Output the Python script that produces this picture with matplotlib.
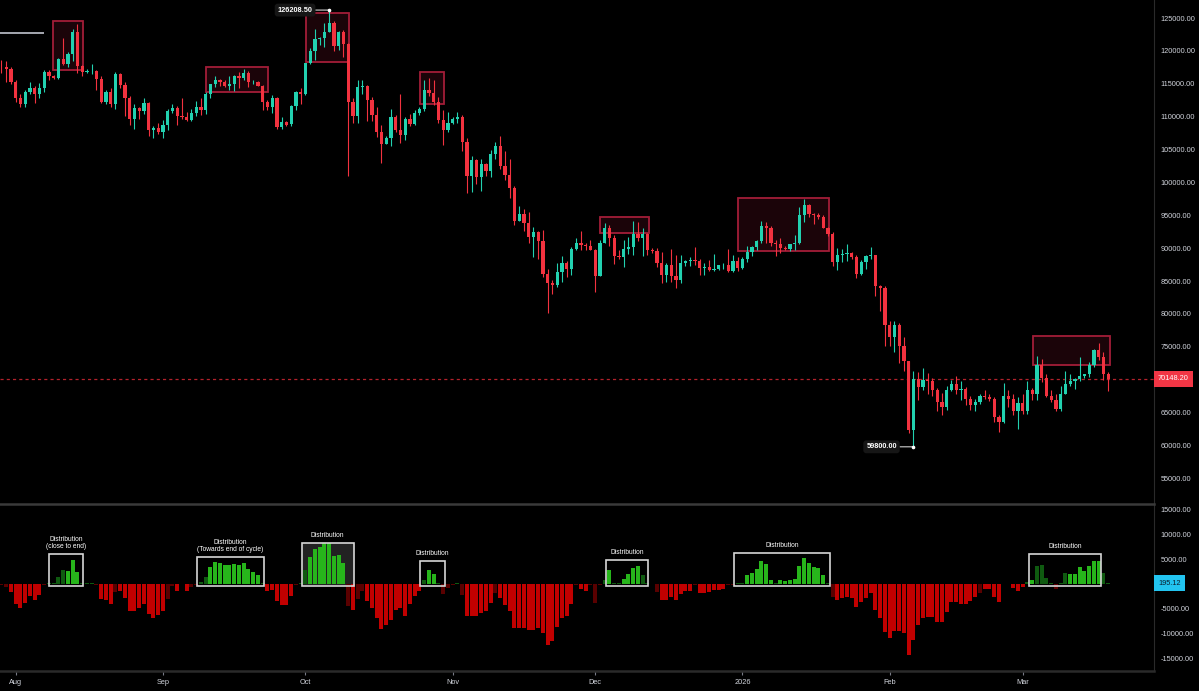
import numpy as np
import pandas as pd
import matplotlib
matplotlib.use("Agg")
import matplotlib.pyplot as plt
import matplotlib.dates as mdates
from matplotlib.patches import Rectangle

plt.rcParams["font.family"] = ["Liberation Sans", "DejaVu Sans"]
plt.rcParams["axes.unicode_minus"] = False

# daily candles, 29 Jul 2025 .. 19 Mar 2026, prices in thousands
dates = pd.date_range("2025-07-29", "2026-03-19", freq="D")

open_k = [
    117.6, 117.5, 117.3, 115.3, 112.8, 112.0, 113.8, 114.4, 113.5, 114.4,
    116.8, 116.2, 115.9, 118.7, 118.0, 119.6, 122.9, 117.7, 116.8, 116.9,
    117.0, 115.7, 112.3, 113.8, 111.9, 116.5, 114.8, 112.9, 109.6, 111.3,
    110.8, 112.1, 107.9, 108.3, 107.7, 108.7, 110.8, 111.3, 110.1, 109.9,
    109.5, 110.6, 111.5, 111.0, 113.5, 114.9, 115.5, 115.3, 114.6, 114.9,
    116.2, 115.9, 116.6, 115.2, 115.3, 114.7, 112.3, 111.5, 112.8, 108.4,
    109.2, 108.9, 111.6, 113.8, 113.4, 118.1, 120.0, 121.8, 121.9, 122.9,
    124.2, 120.7, 122.8, 121.0, 112.3, 110.1, 114.5, 114.7, 112.6, 110.2,
    107.7, 105.9, 106.8, 110.0, 107.9, 107.2, 109.6, 108.9, 110.6, 111.1,
    114.0, 113.6, 112.3, 109.5, 107.9, 109.1, 109.6, 110.0, 106.2, 101.0,
    103.4, 100.8, 102.8, 101.8, 104.3, 105.5, 102.5, 101.1, 99.2, 94.2,
    95.2, 93.8, 91.7, 92.5, 91.1, 86.1, 84.7, 84.4, 86.4, 87.8,
    86.9, 89.9, 90.8, 90.5, 90.4, 89.8, 85.7, 90.8, 93.0, 91.6,
    88.8, 88.7, 89.9, 90.2, 92.2, 91.6, 92.1, 89.8, 89.6, 87.7,
    86.0, 87.4, 85.7, 85.1, 87.7, 88.0, 88.2, 88.1, 87.0, 87.2,
    86.7, 86.9, 87.4, 87.5, 86.6, 88.0, 87.0, 88.4, 89.4, 90.2,
    91.1, 93.3, 93.1, 90.8, 90.7, 90.1, 89.9, 90.6, 90.8, 95.0,
    96.5, 95.2, 95.1, 94.8, 93.1, 92.1, 87.9, 88.9, 89.1, 89.3,
    88.6, 86.1, 87.9, 88.8, 88.9, 84.2, 83.9, 78.3, 76.5, 78.3,
    75.2, 72.8, 62.4, 70.1, 68.9, 69.9, 69.8, 68.4, 66.6, 65.8,
    68.5, 69.4, 68.5, 68.6, 67.1, 66.1, 66.6, 67.6, 67.3, 67.1,
    64.3, 63.6, 67.6, 67.0, 65.3, 66.5, 65.3, 68.4, 67.8, 72.2,
    70.3, 67.6, 66.9, 65.6, 67.9, 69.4, 69.8, 70.1, 70.5, 70.8,
    72.2, 74.5, 73.5, 70.8,
]
high_k = [
    118.6, 118.4, 117.5, 115.5, 113.5, 114.1, 115.2, 114.7, 115.1, 117.1,
    117.1, 116.3, 118.9, 121.9, 119.9, 123.3, 124.1, 117.9, 117.3, 118.0,
    117.1, 116.2, 114.0, 114.3, 116.8, 116.6, 115.2, 113.1, 112.0, 111.5,
    112.9, 112.3, 108.6, 109.0, 109.5, 111.1, 112.0, 111.6, 112.8, 110.7,
    111.1, 112.4, 112.8, 113.8, 115.0, 116.2, 115.8, 115.6, 116.2, 116.3,
    116.8, 117.3, 117.0, 115.6, 115.4, 114.8, 112.6, 113.3, 113.0, 109.9,
    109.4, 111.8, 113.9, 114.3, 118.2, 120.4, 123.4, 122.1, 124.2, 126.2,
    124.6, 123.1, 123.2, 121.2, 112.8, 115.5, 115.5, 114.8, 113.0, 111.4,
    108.7, 107.0, 111.1, 110.3, 113.4, 110.0, 110.4, 111.0, 111.5, 115.5,
    115.9, 115.6, 113.0, 111.0, 110.7, 110.0, 110.7, 110.2, 106.7, 104.0,
    103.6, 103.5, 102.9, 105.0, 106.2, 107.0, 104.8, 103.5, 99.4, 96.4,
    96.0, 95.5, 93.2, 92.6, 92.7, 86.9, 85.1, 87.7, 88.8, 88.1,
    90.2, 91.5, 92.6, 90.8, 91.3, 89.9, 91.3, 93.8, 93.5, 92.0,
    89.7, 91.2, 91.7, 94.2, 94.0, 93.0, 92.3, 90.1, 90.0, 89.4,
    87.7, 89.9, 88.9, 88.9, 88.2, 88.7, 90.2, 88.4, 87.8, 88.2,
    89.1, 87.5, 87.7, 89.9, 88.9, 88.7, 88.7, 90.4, 90.3, 91.3,
    94.2, 94.0, 93.3, 91.2, 91.6, 90.4, 90.7, 92.0, 96.3, 97.5,
    96.7, 95.4, 95.3, 95.0, 93.2, 92.5, 90.1, 89.9, 90.7, 89.4,
    88.9, 88.2, 88.9, 90.2, 89.0, 84.4, 84.2, 79.0, 78.9, 78.6,
    76.5, 72.8, 71.3, 71.2, 71.8, 71.0, 70.2, 68.8, 68.0, 69.1,
    70.0, 70.5, 69.8, 68.9, 67.6, 67.0, 67.9, 68.4, 67.9, 67.4,
    64.7, 69.5, 68.4, 67.8, 67.3, 67.8, 69.8, 68.8, 73.6, 73.1,
    70.9, 68.5, 67.8, 69.1, 71.3, 70.8, 70.2, 73.5, 70.9, 72.7,
    74.7, 75.6, 74.2, 71.2,
]
low_k = [
    116.6, 115.3, 115.0, 112.3, 111.4, 111.5, 113.5, 112.1, 112.8, 113.8,
    115.5, 115.8, 115.8, 117.8, 117.6, 118.4, 116.6, 116.2, 116.6, 116.5,
    114.1, 112.1, 111.9, 111.5, 111.1, 114.3, 110.1, 108.7, 108.2, 109.7,
    110.4, 107.0, 106.8, 107.4, 106.8, 107.9, 110.5, 108.7, 109.6, 109.4,
    109.4, 110.1, 110.2, 110.4, 112.9, 114.5, 114.6, 114.5, 114.0, 113.9,
    114.3, 115.6, 114.5, 115.0, 114.6, 111.0, 111.0, 110.5, 108.2, 108.1,
    108.6, 108.6, 111.0, 112.0, 113.3, 118.0, 118.6, 120.9, 120.6, 122.8,
    120.0, 120.2, 119.1, 101.0, 109.1, 109.1, 113.5, 109.4, 109.4, 106.9,
    103.0, 105.8, 105.6, 107.7, 106.0, 106.5, 108.6, 108.7, 110.2, 110.9,
    113.2, 111.8, 109.0, 105.7, 107.7, 108.9, 109.0, 104.8, 98.4, 98.5,
    99.8, 98.7, 101.0, 100.9, 103.6, 102.1, 100.3, 97.6, 93.5, 94.1,
    92.6, 90.8, 88.6, 88.3, 85.6, 80.2, 83.1, 84.1, 84.9, 85.6,
    85.9, 89.7, 89.7, 89.7, 89.7, 83.4, 85.7, 90.8, 90.3, 87.6,
    88.4, 87.2, 89.1, 88.9, 91.1, 88.8, 88.9, 89.3, 87.1, 84.7,
    84.9, 84.9, 84.0, 84.7, 87.3, 87.3, 87.4, 86.0, 85.9, 86.5,
    86.5, 86.7, 86.9, 86.4, 86.4, 86.6, 86.9, 87.9, 88.8, 89.7,
    90.8, 90.8, 90.3, 88.8, 89.3, 89.8, 89.6, 89.7, 90.6, 94.0,
    94.7, 93.7, 94.4, 93.0, 91.8, 87.3, 86.7, 87.9, 88.1, 88.4,
    85.5, 86.0, 86.9, 88.3, 82.8, 80.5, 75.2, 75.2, 74.2, 72.5,
    71.4, 61.9, 59.8, 66.9, 68.4, 67.9, 67.5, 65.3, 64.6, 65.4,
    68.3, 67.8, 66.9, 66.1, 65.4, 65.2, 66.3, 67.0, 66.8, 63.6,
    62.0, 63.4, 65.8, 64.6, 62.5, 64.8, 64.8, 66.9, 66.9, 69.7,
    67.4, 66.6, 65.2, 65.3, 67.8, 69.1, 68.6, 69.8, 70.3, 70.4,
    71.9, 73.0, 70.0, 68.3,
]
close_k = [
    117.5, 117.3, 115.3, 112.8, 112.0, 113.8, 114.4, 113.5, 114.4, 116.8,
    116.2, 115.9, 118.7, 118.0, 119.6, 122.9, 117.7, 116.8, 116.9, 117.0,
    115.7, 112.3, 113.8, 111.9, 116.5, 114.8, 112.9, 109.6, 111.3, 110.8,
    112.1, 107.9, 108.3, 107.7, 108.7, 110.8, 111.3, 110.1, 109.9, 109.5,
    110.6, 111.5, 111.0, 113.5, 114.9, 115.5, 115.3, 114.6, 114.9, 116.2,
    115.9, 116.6, 115.2, 115.3, 114.7, 112.3, 111.5, 112.8, 108.4, 109.2,
    108.7, 111.6, 113.8, 113.4, 118.1, 120.0, 121.8, 121.9, 122.9, 124.2,
    120.7, 122.8, 121.0, 112.3, 110.1, 114.5, 114.7, 112.6, 110.2, 107.7,
    105.9, 106.8, 110.0, 107.9, 107.2, 109.6, 108.9, 110.6, 111.1, 114.0,
    113.6, 112.3, 109.5, 107.9, 109.1, 109.6, 110.0, 106.2, 101.0, 103.4,
    100.8, 102.8, 101.8, 104.3, 105.5, 102.5, 101.1, 99.2, 94.2, 95.2,
    93.8, 91.7, 92.5, 91.1, 86.1, 84.7, 84.4, 86.4, 87.8, 86.9,
    89.9, 90.8, 90.5, 90.4, 89.8, 85.7, 90.8, 93.0, 91.6, 88.8,
    88.7, 89.9, 90.2, 92.2, 91.6, 92.1, 89.8, 89.6, 87.7, 86.0,
    87.4, 85.7, 85.1, 87.7, 88.0, 88.2, 88.1, 87.0, 87.2, 86.7,
    86.9, 87.4, 87.5, 86.6, 88.0, 87.0, 88.4, 89.4, 90.2, 91.1,
    93.3, 93.1, 90.8, 90.7, 90.1, 89.9, 90.6, 90.8, 95.0, 96.5,
    95.2, 95.1, 94.8, 93.1, 92.1, 87.9, 88.9, 89.1, 89.3, 88.6,
    86.1, 87.9, 88.8, 88.9, 84.2, 83.9, 78.3, 76.5, 78.3, 75.2,
    72.8, 62.4, 70.1, 68.9, 69.9, 69.8, 68.4, 66.6, 65.8, 68.5,
    69.4, 68.5, 68.6, 67.1, 66.1, 66.6, 67.6, 67.3, 67.1, 64.3,
    63.6, 67.6, 67.0, 65.3, 66.5, 65.3, 68.4, 67.8, 72.2, 70.3,
    67.6, 66.9, 65.6, 67.9, 69.4, 69.8, 70.1, 70.5, 70.8, 72.2,
    74.5, 73.5, 70.8, 70.1482,
]

# lower pane histogram, one bar per candle
hist = [
    -300, -700, -1600, -4000, -4900, -3850, -2400, -3200, -2200, -300,
    100, 300, 1500, 2900, 2700, 4800, 2400, 100, 100, 200,
    -300, -3000, -3200, -4000, -1700, -1500, -2800, -5500, -5500, -4900,
    -4000, -6100, -6900, -6200, -5400, -3000, -400, -1500, -100, -1500,
    -700, -200, 500, 1400, 3400, 4400, 4300, 3800, 3800, 4100,
    3900, 4300, 3000, 2400, 1800, 100, -1500, -1200, -3400, -4200,
    -4200, -2500, -200, 100, 2900, 5400, 7000, 7400, 8200, 8200,
    5600, 5800, 4300, -4500, -5200, -3000, -1500, -3400, -4900, -6900,
    -9100, -8400, -7200, -5200, -4900, -6400, -4000, -2500, -1500, 900,
    2800, 2000, 100, -2000, -900, -300, 100, -2200, -6400, -6400,
    -6400, -5900, -5500, -3850, -1800, -2800, -4300, -5400, -8900, -8900,
    -9000, -9300, -9300, -9000, -10000, -12300, -11600, -8800, -6800, -6400,
    -4000, -300, -1000, -1500, -300, -3900, -200, 900, 2800, 200,
    100, 1000, 2000, 3200, 3600, 1900, 100, -100, -1600, -3200,
    -3200, -2700, -3200, -2000, -1350, -1350, -200, -1800, -1800, -1600,
    -1150, -1150, -1000, -200, -200, 100, 200, 1800, 2200, 3100,
    4700, 4100, 900, 300, 900, 700, 900, 1100, 3700, 5300,
    4300, 3400, 3200, 1900, 100, -2700, -3200, -2800, -2600, -2800,
    -4600, -3700, -2800, -1800, -5200, -6900, -9800, -11000, -9500, -9600,
    -10000, -14300, -11300, -8400, -6800, -6600, -6600, -7600, -7600, -5700,
    -3650, -3650, -4000, -4000, -3500, -2700, -1800, -950, -950, -2700,
    -3650, -100, -100, -800, -1350, -700, 400, 900, 3700, 3900,
    1200, 100, -950, 100, 2200, 2100, 2000, 3400, 2600, 3600,
    4700, 4700, 2200, 195.12,
]
# G/R bright, g/r dim
hist_tone = ("rrRRRRRRRr" "ggggGGGggg" "rRRRrRRRRR" "RRRRRrrRrR" "rrggGGGGGG"
             "GGGGGgRRRR" "RRrggGGGGG" "GGGrRrrRRR" "RRRRRRRRRg" "GGgrrrgrRR"
             "RRRRrRRRRR" "RRRRRRRRRR" "RrRRrrrgGg" "gGGGGggrrR" "RRRRRRrRRR"
             "RRRrrggGGG" "GGGgGGGGGG" "GGGGgrRRRR" "RRRRRRRRRR" "RRRRRRRRRR"
             "RRRRRRrRRR" "RrrRRRgGgg" "ggrggGGGGG" "GGgg")

month_ticks = ["2025-08-01", "2025-09-01", "2025-10-01", "2025-11-01",
               "2025-12-01", "2026-01-01", "2026-02-01", "2026-03-01"]
month_labels = ["Aug", "Sep", "Oct", "Nov", "Dec", "2026", "Feb", "Mar"]

# scale labels (the level under each last-value tag is hidden, as on the chart)
price_ticks = [55000, 60000, 65000, 75000, 80000, 85000, 90000, 95000,
               100000, 105000, 110000, 115000, 120000, 125000]
hist_ticks = [-15000, -10000, -5000, 5000, 10000, 15000]

last_price = 70148.20
last_hist = 195.12
swing_high = 126208.50
swing_low = 59800.00
old_level = 122700        # stray horizontal at top left

# annotation boxes: (day from 1 Aug start, end, low k, high k)
price_boxes = [(7.9, 14.1, 117.1, 124.5), (40.0, 53.2, 113.8, 117.5),
               (61.1, 70.2, 118.3, 125.7), (85.1, 90.2, 112.0, 116.8),
               (123.1, 133.3, 92.3, 94.8), (152.1, 171.3, 89.5, 97.7),
               (214.2, 230.3, 72.3, 76.6)]
# (day start, end, top value, label, filled)
hist_boxes = [(7.1, 14.1, 6100, "Distribution\n(close to end)", False),
              (38.1, 52.2, 5500, "Distribution\n(Towards end of cycle)", False),
              (60.2, 71.2, 8200, "Distribution", True),
              (85.1, 90.4, 4650, "Distribution", False),
              (124.2, 133.2, 4850, "Distribution", False),
              (151.2, 171.5, 6200, "Distribution", False),
              (213.3, 228.5, 6000, "Distribution", False)]

BG = "#000000"
UP, DN = "#22d1b0", "#f2323f"
TXT = "#d1d4dc"
GRID = "#2a2a2a"
TONES = {"G": "#27b51b", "g": "#0f5a10", "R": "#c10000", "r": "#5a0000"}

x = mdates.date2num(dates)
o = np.array(open_k) * 1000
h = np.array(high_k) * 1000
l = np.array(low_k) * 1000
c = np.array(close_k) * 1000
assert len(x) == len(o) == len(h) == len(l) == len(c) == len(hist) == len(hist_tone)
base = mdates.date2num(pd.Timestamp("2025-08-01"))

fig = plt.figure(figsize=(11.99, 6.91), dpi=100, facecolor=BG)
W, H = 1199, 691
ax = fig.add_axes([0, 1 - 503.5 / H, 1154 / W, 503.5 / H], facecolor=BG)
axh = fig.add_axes([0, 1 - 671 / H, 1154 / W, 167 / H], facecolor=BG)

# candles
col = np.where(c >= o, UP, DN)
ax.vlines(x, l, h, colors=col, lw=0.8, zorder=2)
ax.bar(x, np.maximum(np.abs(c - o), 70), bottom=np.minimum(o, c), width=0.7,
       color=col, lw=0, zorder=3)

for d0, d1, lo, hi in price_boxes:
    ax.add_patch(Rectangle((base + d0, lo * 1000), d1 - d0, (hi - lo) * 1000,
                           fc="#1b0409", ec="#a31d38", lw=1.3, zorder=1))

ax.set_xlim(base - 3.3, base + 239.65)
ax.set_ylim(51180, 127740)
ax.axhline(last_price, color="#b3222c", lw=0.9, ls=(0, (2.5, 2.5)), zorder=1)
ax.hlines(old_level, base - 3.3, base + 6.0, color="#b2b5be", lw=1.3, zorder=2)

# swing high / low markers
ih, il = int(np.argmax(h)), int(np.argmin(l))
for xi, yi, lbl in [(x[ih], swing_high, swing_high), (x[il], swing_low, swing_low)]:
    ax.annotate(f"{lbl:.2f}", xy=(xi, yi), xytext=(-12, 0), textcoords="offset points",
                ha="right", va="center", color="white", fontsize=5.3, fontweight="bold",
                bbox=dict(boxstyle="round,pad=0.4", fc="#161616", ec="none"),
                arrowprops=dict(arrowstyle="-", color="#d0d0d0", lw=0.8, shrinkA=0, shrinkB=0),
                zorder=5)
    ax.plot(xi, yi, "o", ms=1.6, color="white", zorder=6)

ax.yaxis.tick_right()
ax.set_yticks(price_ticks)
ax.yaxis.set_major_formatter(matplotlib.ticker.StrMethodFormatter("{x:.2f}"))
ax.tick_params(axis="y", length=0, pad=4.5, labelsize=5.3, labelcolor=TXT)
ax.tick_params(axis="x", length=0, labelbottom=False)
for s in ("top", "left", "bottom"):
    ax.spines[s].set_visible(False)
ax.spines["right"].set_color(GRID)
ax.text(1.0035, last_price, f"{last_price:.2f}", transform=ax.get_yaxis_transform(),
        ha="left", va="center", color="white", fontsize=5.3, clip_on=False,
        bbox=dict(boxstyle="square,pad=0.6", fc="#f23645", ec="none"))

# histogram pane
axh.bar(x, hist, width=0.82, color=[TONES[t] for t in hist_tone], lw=0, zorder=2)
for d0, d1, top, lbl, filled in hist_boxes:
    if filled:
        axh.add_patch(Rectangle((base + d0, -400), d1 - d0, top + 400,
                                fc="#222222", ec="none", zorder=1))
    axh.add_patch(Rectangle((base + d0, -400), d1 - d0, top + 400,
                            fc="none", ec="#d6d6d6", lw=1.2, zorder=3))
    axh.annotate(lbl, xy=(base + (d0 + d1) / 2, top), xytext=(0, 3),
                 textcoords="offset points", ha="center", va="bottom",
                 color="white", fontsize=4.8, linespacing=0.85, zorder=4)

axh.set_xlim(ax.get_xlim())
axh.set_ylim(-17610, 16190)
axh.yaxis.tick_right()
axh.set_yticks(hist_ticks)
axh.yaxis.set_major_formatter(matplotlib.ticker.StrMethodFormatter("{x:.2f}"))
axh.tick_params(axis="y", length=0, pad=4.5, labelsize=5.3, labelcolor=TXT)
axh.set_xticks(mdates.date2num(pd.to_datetime(month_ticks)))
axh.set_xticklabels(month_labels)
axh.tick_params(axis="x", length=3, width=0.8, color="#787b86", pad=3,
                labelsize=5.3, labelcolor=TXT)
axh.spines["left"].set_visible(False)
axh.spines["top"].set_color("#3a3a3a")
axh.spines["top"].set_linewidth(1.8)
axh.spines["bottom"].set_color(GRID)
axh.spines["bottom"].set_linewidth(1.8)
axh.spines["right"].set_color(GRID)
axh.text(1.0035, last_hist, f"{last_hist:.2f}", transform=axh.get_yaxis_transform(),
         ha="left", va="center", color="#0b1e2e", fontsize=5.3, clip_on=False,
         bbox=dict(boxstyle="square,pad=0.6", fc="#22c4f0", ec="none"))

fig.savefig("out.png", dpi=100, facecolor=BG)
